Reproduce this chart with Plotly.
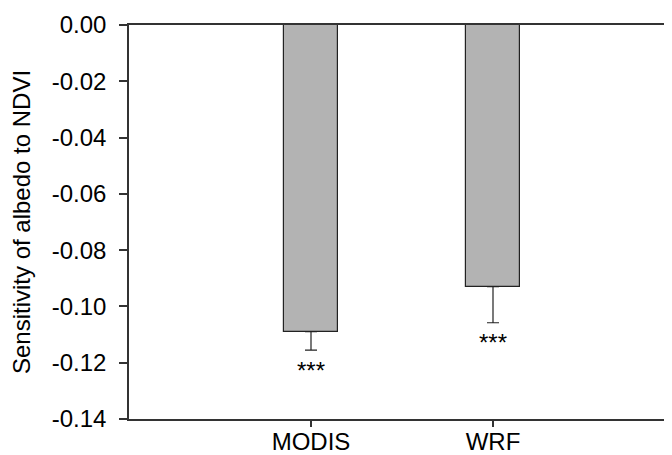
import plotly.graph_objects as go

categories = ["MODIS", "WRF"]
values = [-0.109, -0.093]
errors_minus = [0.0065, 0.0128]
significance = ["***", "***"]
star_values = [-0.1227, -0.1128]
y_ticks = [0.00, -0.02, -0.04, -0.06, -0.08, -0.10, -0.12, -0.14]
y_tick_labels = ["0.00", "-0.02", "-0.04", "-0.06", "-0.08", "-0.10", "-0.12", "-0.14"]

FONT = "Liberation Sans, Arial, sans-serif"
AXC = "#333333"

fig = go.Figure()
fig.add_trace(go.Bar(
    x=categories, y=values, width=0.295,
    marker=dict(color="#b3b3b3", line=dict(color="#222222", width=1.2)),
    error_y=dict(type="data", symmetric=False, array=[0, 0], arrayminus=errors_minus,
                 color="#222222", thickness=1.2, width=6),
    showlegend=False,
))

for c, s, v in zip(categories, significance, star_values):
    fig.add_annotation(x=c, y=v, text=s, showarrow=False, xanchor="center", yanchor="middle",
                       font=dict(family=FONT, size=24, color="black"))

fig.update_layout(
    width=672, height=455,
    margin=dict(l=121, r=3, t=11, b=44),
    paper_bgcolor="white", plot_bgcolor="white",
    font=dict(family=FONT, size=22, color="black"),
    bargap=0,
)
fig.update_xaxes(type="category", range=[-1, 2], showline=True, linecolor=AXC, linewidth=1.5,
                 mirror=True, ticks="outside", ticklen=6, tickcolor=AXC, tickwidth=1.5,
                 showgrid=False, zeroline=False, tickfont=dict(family=FONT, size=24),
                 ticklabelstandoff=-6, ticklabeloverflow="allow")
fig.update_yaxes(range=[-0.14, 0], tickvals=y_ticks, ticktext=y_tick_labels, showline=True,
                 linecolor=AXC, linewidth=1.5, mirror=True, ticks="outside", ticklen=8,
                 tickcolor=AXC, tickwidth=1.5, showgrid=False, zeroline=False,
                 tickfont=dict(family=FONT, size=24), ticklabeloverflow="allow",
                 ticklabelstandoff=8,
                 title=dict(text="Sensitivity of albedo to NDVI", font=dict(family=FONT, size=24),
                            standoff=14))
fig.write_html("out.html")
